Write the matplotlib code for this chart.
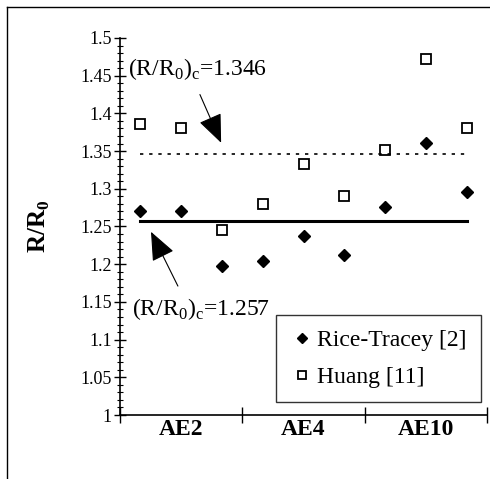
import numpy as np
import matplotlib
matplotlib.use('Agg')
import matplotlib.pyplot as plt
from matplotlib.ticker import MultipleLocator, FixedLocator

plt.rcParams['font.family'] = ['Liberation Serif', 'DejaVu Serif']
plt.rcParams['mathtext.fontset'] = 'custom'
plt.rcParams['mathtext.rm'] = 'Liberation Serif'
plt.rcParams['mathtext.bf'] = 'Liberation Serif:bold'

# Data
groups = ['AE2', 'AE4', 'AE10']
rice_tracey = [1.271, 1.270, 1.197, 1.204, 1.238, 1.212, 1.276, 1.361, 1.296]
huang = [1.386, 1.380, 1.246, 1.280, 1.333, 1.291, 1.352, 1.472, 1.381]
rc_upper = 1.346
rc_lower = 1.257

x = np.arange(len(huang)) + 0.5

fig = plt.figure(figsize=(4.9, 4.79), dpi=100)
ax = fig.add_axes([120/490, 1 - 415/479, 367/490, 377/479])

# outer frame (cut off at right/bottom like the scan)
fig.add_artist(plt.Line2D([7/490, 7/490], [0, 1 - 7/479], color='black', lw=1.0,
                          transform=fig.transFigure))
fig.add_artist(plt.Line2D([7/490, 1], [1 - 7/479, 1 - 7/479], color='black', lw=1.0,
                          transform=fig.transFigure))

ax.plot(x, rice_tracey, 'D', color='black', ms=6, label='Rice-Tracey [2]', clip_on=False)
ax.plot(x, huang, 's', mfc='white', mec='black', mew=1.3, ms=7.5, label='Huang [11]', clip_on=False)

ax.plot([x[0], x[-1]], [rc_upper, rc_upper], color='black', lw=1.2, linestyle=(0, (2, 3.5)))
ax.plot([x[0], x[-1]], [rc_lower, rc_lower], color='black', lw=2.2)

arrow = dict(arrowstyle='-|>,head_length=1.2,head_width=0.5', color='black',
             lw=0.8, mutation_scale=15, shrinkA=0, shrinkB=0)
label_up = r'(R/R$_\mathregular{0}$)$_\mathregular{c}$=1.346'
label_lo = r'(R/R$_\mathregular{0}$)$_\mathregular{c}$=1.257'
ax.text(0.2, 1.459, label_up, fontsize=17, va='center', ha='left')
ax.annotate('', xy=(2.48, 1.361), xytext=(1.96, 1.425), arrowprops=arrow)
ax.text(0.29, 1.140, label_lo, fontsize=17, va='center', ha='left')
ax.annotate('', xy=(0.76, 1.243), xytext=(1.42, 1.171), arrowprops=arrow)

ax.set_xlim(0, 9)
ax.set_ylim(1.0, 1.5)
ax.yaxis.set_major_locator(MultipleLocator(0.05))
ax.yaxis.set_minor_locator(MultipleLocator(0.01))
ax.yaxis.set_major_formatter(matplotlib.ticker.FuncFormatter(lambda v, p: f'{v:.2f}'.rstrip('0').rstrip('.')))
ax.tick_params(axis='y', which='major', direction='inout', length=8, width=1, labelsize=13, pad=2)
ax.tick_params(axis='y', which='minor', direction='inout', length=4, width=0.8)

ax.xaxis.set_major_locator(FixedLocator([0, 3, 6, 9]))
ax.xaxis.set_minor_locator(FixedLocator([1.5, 4.5, 7.5]))
ax.set_xticklabels([])
ax.xaxis.set_minor_formatter(matplotlib.ticker.FixedFormatter(groups))
ax.tick_params(axis='x', which='major', direction='inout', length=12, width=1)
ax.tick_params(axis='x', which='minor', length=0, labelsize=17, pad=3)
for lbl in ax.xaxis.get_minorticklabels():
    lbl.set_fontweight('bold')

for s in ['top', 'right']:
    ax.spines[s].set_visible(False)
ax.spines['left'].set_linewidth(1.2)
ax.spines['bottom'].set_linewidth(1.2)

ax.set_ylabel(r'R/R$_\mathbf{0}$', fontsize=18, fontweight='bold', labelpad=20)

leg = ax.legend(loc='lower right', bbox_to_anchor=(0.984, 0.034), fontsize=17,
                frameon=True, fancybox=False, handletextpad=0.15, handlelength=1.0,
                borderpad=0.6, labelspacing=0.65, borderaxespad=0, markerscale=0.85)
leg.get_frame().set_edgecolor('black')
leg.get_frame().set_linewidth(1.0)

fig.savefig('out.png', dpi=100)
